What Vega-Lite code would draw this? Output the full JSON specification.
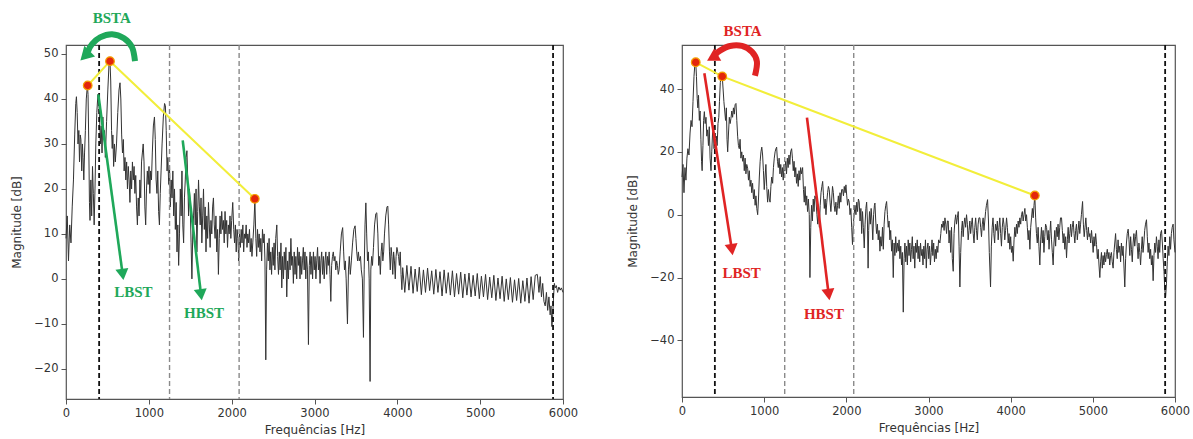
{
"$schema": "https://vega.github.io/schema/vega-lite/v6.json",
"autosize": {"type": "pad"},
"padding": {"left": 10, "top": 10, "right": 5, "bottom": 5},
"bounds": "flush",
"spacing": 119,
"config": {
  "font": "DejaVu Sans",
  "numberFormat": "d",
  "view": {"stroke": "#555", "strokeWidth": 1.2},
  "axis": {"grid": false, "domain": false, "labelFont": "DejaVu Sans", "labelFontSize": 11.5, "labelColor": "#333", "titleFont": "DejaVu Sans", "titleFontSize": 12, "titleFontWeight": "normal", "titleColor": "#333", "tickColor": "#555", "tickSize": 5, "labelPadding": 3},
  "axisX": {"labelFlush": false, "titlePadding": 6},
  "axisY": {"titlePadding": 10}
},
"datasets": {
  "vlb": [{"f": 400}, {"f": 5880}],
  "vlg": [{"f": 1250}, {"f": 2090}],
  "specL": [
{"f":0,"m":9},{"f":15,"m":14},{"f":30,"m":4},{"f":45,"m":12},{"f":60,"m":8},{"f":75,"m":16},{"f":90,"m":22},{"f":105,"m":32},{"f":118,"m":39},{"f":126,"m":40.5},{"f":135,"m":37},{"f":145,"m":30},{"f":155,"m":33},{"f":163,"m":26},{"f":172,"m":32},{"f":180,"m":31},{"f":190,"m":24},{"f":198,"m":30},{"f":206,"m":27},{"f":215,"m":22},{"f":224,"m":28},{"f":234,"m":33},{"f":245,"m":40},{"f":258,"m":43},{"f":266,"m":41},{"f":275,"m":30},{"f":283,"m":17},{"f":290,"m":13},{"f":300,"m":22},{"f":310,"m":14},{"f":320,"m":25},{"f":330,"m":19},{"f":340,"m":12},{"f":350,"m":20},{"f":360,"m":30},{"f":372,"m":37},{"f":385,"m":41},{"f":395,"m":40},{"f":405,"m":36},{"f":415,"m":30},{"f":425,"m":34},{"f":435,"m":28},{"f":445,"m":36},{"f":455,"m":31},{"f":465,"m":33},{"f":475,"m":27},{"f":490,"m":35},{"f":505,"m":42},{"f":520,"m":48},{"f":531,"m":48.4},{"f":540,"m":44},{"f":550,"m":33},{"f":558,"m":29},{"f":566,"m":32},{"f":575,"m":25},{"f":585,"m":30},{"f":595,"m":26},{"f":610,"m":30},{"f":625,"m":37},{"f":640,"m":42},{"f":652,"m":43.6},{"f":662,"m":40},{"f":672,"m":32},{"f":682,"m":28},{"f":692,"m":31},{"f":702,"m":24},{"f":712,"m":27},{"f":722,"m":22},{"f":732,"m":26},{"f":742,"m":20},{"f":752,"m":25},{"f":762,"m":22},{"f":772,"m":17},{"f":782,"m":24},{"f":792,"m":20},{"f":802,"m":26},{"f":812,"m":22},{"f":822,"m":25},{"f":832,"m":19},{"f":842,"m":23},{"f":852,"m":16},{"f":862,"m":12},{"f":872,"m":18},{"f":882,"m":14},{"f":892,"m":22},{"f":902,"m":18},{"f":912,"m":26},{"f":922,"m":28},{"f":932,"m":30},{"f":942,"m":26},{"f":952,"m":16},{"f":962,"m":12},{"f":972,"m":20},{"f":982,"m":24},{"f":992,"m":21},{"f":1002,"m":25},{"f":1012,"m":19},{"f":1022,"m":24},{"f":1032,"m":22},{"f":1042,"m":28},{"f":1055,"m":34},{"f":1068,"m":36},{"f":1078,"m":31},{"f":1088,"m":22},{"f":1098,"m":19},{"f":1108,"m":24},{"f":1118,"m":15},{"f":1128,"m":12},{"f":1138,"m":19},{"f":1148,"m":24},{"f":1160,"m":30},{"f":1175,"m":36},{"f":1190,"m":39},{"f":1200,"m":38.5},{"f":1210,"m":33},{"f":1220,"m":24},{"f":1230,"m":27},{"f":1240,"m":21},{"f":1250,"m":25},{"f":1260,"m":16},{"f":1270,"m":22},{"f":1280,"m":18},{"f":1290,"m":24},{"f":1300,"m":14},{"f":1310,"m":20},{"f":1320,"m":11},{"f":1330,"m":17},{"f":1340,"m":6},{"f":1350,"m":12},{"f":1360,"m":3},{"f":1370,"m":10},{"f":1380,"m":20},{"f":1390,"m":14},{"f":1400,"m":24},{"f":1410,"m":12},{"f":1420,"m":8},{"f":1430,"m":18},{"f":1440,"m":22},{"f":1450,"m":27},{"f":1460,"m":28.5},{"f":1470,"m":22},{"f":1480,"m":14},{"f":1490,"m":20},{"f":1500,"m":16},{"f":1510,"m":8},{"f":1520,"m":0},{"f":1530,"m":10},{"f":1540,"m":14},{"f":1550,"m":19},{"f":1560,"m":12},{"f":1570,"m":20},{"f":1580,"m":6},{"f":1590,"m":15},{"f":1600,"m":22},{"f":1610,"m":16},{"f":1620,"m":12},{"f":1630,"m":18},{"f":1640,"m":8},{"f":1650,"m":14},{"f":1660,"m":20},{"f":1670,"m":11},{"f":1680,"m":16},{"f":1690,"m":6},{"f":1700,"m":14},{"f":1710,"m":9},{"f":1720,"m":17},{"f":1730,"m":12},{"f":1740,"m":7},{"f":1750,"m":13},{"f":1760,"m":10},{"f":1770,"m":16},{"f":1780,"m":18},{"f":1790,"m":12},{"f":1800,"m":9},{"f":1810,"m":14},{"f":1820,"m":6},{"f":1830,"m":11},{"f":1840,"m":1},{"f":1850,"m":9},{"f":1860,"m":14},{"f":1870,"m":10},{"f":1880,"m":15},{"f":1890,"m":11},{"f":1900,"m":13},{"f":1910,"m":8},{"f":1920,"m":15},{"f":1930,"m":10},{"f":1940,"m":13},{"f":1950,"m":7},{"f":1960,"m":12},{"f":1970,"m":10},{"f":1980,"m":14},{"f":1990,"m":9},{"f":2000,"m":13},{"f":2013,"m":17},{"f":2025,"m":11},{"f":2035,"m":8},{"f":2045,"m":12},{"f":2055,"m":6},{"f":2065,"m":11},{"f":2075,"m":9},{"f":2085,"m":4},{"f":2095,"m":10},{"f":2105,"m":7},{"f":2115,"m":11},{"f":2125,"m":8},{"f":2135,"m":12},{"f":2145,"m":6},{"f":2155,"m":10},{"f":2165,"m":9},{"f":2175,"m":12},{"f":2185,"m":7},{"f":2195,"m":10},{"f":2205,"m":8},{"f":2215,"m":11},{"f":2225,"m":6},{"f":2235,"m":9},{"f":2245,"m":5},{"f":2255,"m":8},{"f":2268,"m":12},{"f":2280,"m":17.5},{"f":2292,"m":9},{"f":2302,"m":5},{"f":2312,"m":11},{"f":2322,"m":7},{"f":2332,"m":10},{"f":2342,"m":6},{"f":2352,"m":9},{"f":2362,"m":4},{"f":2372,"m":11},{"f":2382,"m":8},{"f":2392,"m":10},{"f":2402,"m":4},{"f":2412,"m":-18},{"f":2422,"m":2},{"f":2432,"m":8},{"f":2442,"m":4},{"f":2452,"m":9},{"f":2462,"m":2},{"f":2472,"m":6},{"f":2482,"m":1},{"f":2492,"m":7},{"f":2502,"m":3},{"f":2512,"m":8},{"f":2522,"m":2},{"f":2532,"m":9},{"f":2545,"m":12},{"f":2555,"m":5},{"f":2565,"m":1},{"f":2575,"m":6},{"f":2585,"m":2},{"f":2595,"m":8},{"f":2605,"m":-2},{"f":2615,"m":5},{"f":2625,"m":0},{"f":2635,"m":6},{"f":2645,"m":2},{"f":2655,"m":7},{"f":2665,"m":-4},{"f":2675,"m":4},{"f":2685,"m":0},{"f":2695,"m":6},{"f":2705,"m":2},{"f":2715,"m":9},{"f":2725,"m":3},{"f":2735,"m":5},{"f":2745,"m":-1},{"f":2755,"m":6},{"f":2765,"m":1},{"f":2775,"m":5},{"f":2785,"m":0},{"f":2795,"m":7},{"f":2805,"m":3},{"f":2815,"m":6},{"f":2825,"m":0},{"f":2835,"m":5},{"f":2845,"m":1},{"f":2855,"m":4},{"f":2865,"m":7},{"f":2875,"m":2},{"f":2885,"m":6},{"f":2895,"m":0},{"f":2905,"m":5},{"f":2915,"m":2},{"f":2927,"m":-14.6},{"f":2937,"m":3},{"f":2947,"m":6},{"f":2957,"m":1},{"f":2967,"m":5},{"f":2977,"m":0},{"f":2987,"m":6},{"f":2997,"m":2},{"f":3007,"m":5},{"f":3017,"m":0},{"f":3027,"m":4},{"f":3037,"m":7},{"f":3047,"m":2},{"f":3057,"m":5},{"f":3067,"m":-1},{"f":3077,"m":4},{"f":3087,"m":6},{"f":3097,"m":1},{"f":3107,"m":5},{"f":3117,"m":0},{"f":3127,"m":4},{"f":3137,"m":6},{"f":3147,"m":1},{"f":3157,"m":5},{"f":3167,"m":3},{"f":3177,"m":6},{"f":3187,"m":1},{"f":3197,"m":-5},{"f":3207,"m":3},{"f":3217,"m":5},{"f":3227,"m":6},{"f":3237,"m":4},{"f":3247,"m":5},{"f":3257,"m":2},{"f":3267,"m":4},{"f":3277,"m":3},{"f":3287,"m":1},{"f":3297,"m":2},{"f":3310,"m":6},{"f":3325,"m":10},{"f":3340,"m":11.4},{"f":3352,"m":6},{"f":3362,"m":2},{"f":3372,"m":4},{"f":3382,"m":0},{"f":3398,"m":-10},{"f":3410,"m":2},{"f":3420,"m":5},{"f":3432,"m":1},{"f":3445,"m":4},{"f":3460,"m":8},{"f":3475,"m":11},{"f":3490,"m":11.8},{"f":3500,"m":9},{"f":3510,"m":6},{"f":3520,"m":4},{"f":3530,"m":6},{"f":3540,"m":4},{"f":3555,"m":5},{"f":3565,"m":2},{"f":3578,"m":0},{"f":3591,"m":-13},{"f":3600,"m":2},{"f":3610,"m":12},{"f":3620,"m":16.9},{"f":3630,"m":10},{"f":3640,"m":4},{"f":3650,"m":6},{"f":3660,"m":0},{"f":3671,"m":-22.8},{"f":3680,"m":2},{"f":3690,"m":5},{"f":3700,"m":3},{"f":3712,"m":7},{"f":3725,"m":12},{"f":3740,"m":14.5},{"f":3752,"m":14.7},{"f":3765,"m":10},{"f":3775,"m":3},{"f":3785,"m":5},{"f":3795,"m":1},{"f":3805,"m":6},{"f":3815,"m":8},{"f":3825,"m":4},{"f":3835,"m":6},{"f":3845,"m":10},{"f":3860,"m":14},{"f":3875,"m":16},{"f":3885,"m":16.2},{"f":3895,"m":12},{"f":3905,"m":6},{"f":3915,"m":2},{"f":3925,"m":7},{"f":3935,"m":5},{"f":3945,"m":1},{"f":3955,"m":6},{"f":3965,"m":4},{"f":3975,"m":0},{"f":3985,"m":5},{"f":3995,"m":7},{"f":4005,"m":6},{"f":4015,"m":5},{"f":4025,"m":3},{"f":4035,"m":6},{"f":4045,"m":1},{"f":4055,"m":-2.4},
{"f":4065,"m":2.5},{"f":4090,"m":-3},{"f":4115,"m":3},{"f":4140,"m":-2.5},{"f":4165,"m":2.8},{"f":4190,"m":-3.2},{"f":4215,"m":2.2},{"f":4240,"m":-2.8},{"f":4265,"m":2.6},{"f":4290,"m":-3.5},{"f":4315,"m":2},{"f":4340,"m":-3},{"f":4365,"m":2.4},{"f":4390,"m":-2.6},{"f":4415,"m":1.8},{"f":4440,"m":-3.4},{"f":4465,"m":2.1},{"f":4490,"m":-3},{"f":4515,"m":1.6},{"f":4540,"m":-3.8},{"f":4565,"m":2},{"f":4590,"m":-3.2},{"f":4615,"m":1.4},{"f":4640,"m":-3.6},{"f":4665,"m":1.8},{"f":4690,"m":-4},{"f":4715,"m":1.2},{"f":4740,"m":-3.4},{"f":4765,"m":1.5},{"f":4790,"m":-4.2},{"f":4815,"m":1.1},{"f":4840,"m":-3.6},{"f":4865,"m":1.3},{"f":4890,"m":-4},{"f":4915,"m":0.8},{"f":4940,"m":-3.8},{"f":4965,"m":1.2},{"f":4990,"m":-4.4},{"f":5015,"m":0.6},{"f":5040,"m":-4},{"f":5065,"m":1},{"f":5090,"m":-4.6},{"f":5115,"m":0.4},{"f":5140,"m":-4.2},{"f":5165,"m":0.8},{"f":5190,"m":-4.8},{"f":5215,"m":0.2},{"f":5240,"m":-4.4},{"f":5265,"m":0.6},{"f":5290,"m":-5},{"f":5315,"m":0},{"f":5340,"m":-4.6},{"f":5365,"m":0.3},{"f":5390,"m":-5.2},{"f":5415,"m":-0.2},{"f":5440,"m":-4.8},{"f":5465,"m":0.1},{"f":5490,"m":-5.4},{"f":5515,"m":-0.4},{"f":5540,"m":-5},{"f":5565,"m":0.2},{"f":5590,"m":-5.4},{"f":5615,"m":0.5},{"f":5640,"m":-4.6},{"f":5665,"m":0.8},{"f":5690,"m":1},{"f":5710,"m":-3},{"f":5725,"m":0.5},{"f":5740,"m":-4},{"f":5755,"m":-1},{"f":5770,"m":-5},{"f":5785,"m":-6},{"f":5800,"m":-3},{"f":5815,"m":-7},{"f":5830,"m":-4},{"f":5845,"m":-8},{"f":5855,"m":-6},{"f":5866,"m":-10.6},{"f":5876,"m":-8},{"f":5886,"m":-4},{"f":5896,"m":-1},{"f":5906,"m":-2},{"f":5920,"m":-1.5},{"f":5935,"m":-3},{"f":5950,"m":-1.8},{"f":5966,"m":-2.5},{"f":5980,"m":-2},{"f":6000,"m":-3}
  ],
  "specR": [
{"f":0,"m":12},{"f":12,"m":16},{"f":24,"m":7},{"f":36,"m":15},{"f":48,"m":11},{"f":60,"m":18},{"f":72,"m":21},{"f":85,"m":19},{"f":98,"m":26},{"f":110,"m":30},{"f":122,"m":28},{"f":134,"m":36},{"f":146,"m":44},{"f":158,"m":48.5},{"f":167,"m":48.5},{"f":176,"m":44},{"f":185,"m":37},{"f":193,"m":34},{"f":201,"m":38},{"f":211,"m":30},{"f":220,"m":33},{"f":230,"m":24},{"f":238,"m":17},{"f":245,"m":14},{"f":255,"m":22},{"f":263,"m":30},{"f":272,"m":32.8},{"f":282,"m":29},{"f":292,"m":31},{"f":302,"m":25},{"f":312,"m":27},{"f":322,"m":22},{"f":332,"m":28},{"f":342,"m":18},{"f":353,"m":14},{"f":362,"m":20},{"f":372,"m":26},{"f":381,"m":27},{"f":390,"m":21},{"f":400,"m":24},{"f":410,"m":20},{"f":418,"m":25},{"f":428,"m":22},{"f":438,"m":29},{"f":448,"m":31},{"f":456,"m":36},{"f":466,"m":42},{"f":478,"m":44.5},{"f":490,"m":44},{"f":500,"m":40},{"f":510,"m":36},{"f":520,"m":33},{"f":530,"m":30},{"f":540,"m":34},{"f":548,"m":24},{"f":556,"m":20},{"f":566,"m":26},{"f":576,"m":31},{"f":586,"m":29},{"f":596,"m":30.7},{"f":606,"m":33},{"f":616,"m":31},{"f":626,"m":34},{"f":636,"m":32},{"f":646,"m":35},{"f":657,"m":35.4},{"f":667,"m":30},{"f":677,"m":25},{"f":687,"m":22},{"f":697,"m":21},{"f":707,"m":24},{"f":717,"m":18},{"f":727,"m":20},{"f":738,"m":17},{"f":748,"m":19},{"f":758,"m":14},{"f":768,"m":18},{"f":778,"m":13},{"f":788,"m":16},{"f":799,"m":14.8},{"f":809,"m":11},{"f":819,"m":14},{"f":829,"m":9},{"f":839,"m":11},{"f":849,"m":7},{"f":859,"m":10},{"f":870,"m":5},{"f":880,"m":8},{"f":890,"m":3},{"f":900,"m":6},{"f":910,"m":2},{"f":921,"m":0},{"f":931,"m":5},{"f":941,"m":12},{"f":951,"m":17},{"f":961,"m":20},{"f":971,"m":21.5},{"f":981,"m":19},{"f":991,"m":14},{"f":1001,"m":8},{"f":1011,"m":12},{"f":1021,"m":16},{"f":1031,"m":9},{"f":1042,"m":4},{"f":1052,"m":8},{"f":1062,"m":5},{"f":1072,"m":4},{"f":1082,"m":9},{"f":1092,"m":12},{"f":1103,"m":10},{"f":1113,"m":15},{"f":1123,"m":18},{"f":1133,"m":20},{"f":1143,"m":21},{"f":1152,"m":21.5},{"f":1162,"m":17},{"f":1172,"m":15},{"f":1182,"m":18},{"f":1192,"m":13},{"f":1202,"m":16},{"f":1212,"m":12},{"f":1222,"m":15},{"f":1232,"m":11},{"f":1242,"m":16},{"f":1252,"m":14},{"f":1262,"m":17},{"f":1272,"m":13},{"f":1282,"m":18},{"f":1292,"m":15},{"f":1302,"m":19},{"f":1312,"m":16},{"f":1322,"m":20},{"f":1334,"m":21},{"f":1344,"m":18},{"f":1354,"m":14},{"f":1364,"m":17},{"f":1374,"m":12},{"f":1384,"m":15},{"f":1394,"m":10},{"f":1404,"m":13},{"f":1414,"m":9},{"f":1424,"m":14},{"f":1434,"m":11},{"f":1444,"m":15},{"f":1454,"m":13},{"f":1468,"m":15},{"f":1478,"m":8},{"f":1488,"m":4},{"f":1498,"m":9},{"f":1508,"m":3},{"f":1518,"m":6},{"f":1528,"m":1},{"f":1538,"m":5},{"f":1549,"m":0},{"f":1557,"m":-20},{"f":1567,"m":-4},{"f":1577,"m":3},{"f":1587,"m":-2},{"f":1597,"m":5},{"f":1607,"m":1},{"f":1617,"m":6},{"f":1630,"m":5},{"f":1642,"m":0},{"f":1652,"m":-3},{"f":1662,"m":2},{"f":1672,"m":-4},{"f":1682,"m":3},{"f":1692,"m":7},{"f":1702,"m":9},{"f":1712,"m":10.6},{"f":1722,"m":6},{"f":1732,"m":2},{"f":1742,"m":5},{"f":1752,"m":0},{"f":1762,"m":4},{"f":1772,"m":7},{"f":1782,"m":9},{"f":1792,"m":8},{"f":1802,"m":4},{"f":1812,"m":1},{"f":1822,"m":5},{"f":1832,"m":9},{"f":1842,"m":7},{"f":1852,"m":3},{"f":1862,"m":1},{"f":1873,"m":4},{"f":1883,"m":0},{"f":1893,"m":3},{"f":1903,"m":6},{"f":1913,"m":2},{"f":1923,"m":7},{"f":1933,"m":4},{"f":1943,"m":8},{"f":1955,"m":8},{"f":1965,"m":6},{"f":1975,"m":9},{"f":1985,"m":7},{"f":1995,"m":9.5},{"f":2005,"m":6},{"f":2015,"m":3},{"f":2025,"m":5},{"f":2035,"m":4},{"f":2045,"m":0},{"f":2055,"m":2},{"f":2065,"m":-4},{"f":2075,"m":-9.5},{"f":2085,"m":-3},{"f":2095,"m":0},{"f":2105,"m":3},{"f":2117,"m":0},{"f":2127,"m":4},{"f":2137,"m":1},{"f":2147,"m":5},{"f":2157,"m":4},{"f":2167,"m":-2},{"f":2177,"m":2},{"f":2187,"m":-6},{"f":2197,"m":1},{"f":2207,"m":-4},{"f":2218,"m":-10.6},{"f":2228,"m":-3},{"f":2238,"m":2},{"f":2247,"m":4},{"f":2257,"m":-2},{"f":2265,"m":-17},{"f":2272,"m":-5},{"f":2282,"m":1},{"f":2292,"m":-3},{"f":2302,"m":2},{"f":2312,"m":-2},{"f":2322,"m":-8},{"f":2332,"m":0},{"f":2342,"m":3},{"f":2348,"m":3.7},{"f":2358,"m":-2},{"f":2368,"m":-6},{"f":2378,"m":-3},{"f":2388,"m":-8},{"f":2398,"m":-5},{"f":2409,"m":-11.6},{"f":2420,"m":-7},{"f":2430,"m":-10},{"f":2440,"m":-4},{"f":2450,"m":-11},{"f":2460,"m":-3},{"f":2470,"m":1},{"f":2480,"m":3},{"f":2490,"m":4.2},{"f":2500,"m":0},{"f":2510,"m":-4},{"f":2520,"m":-2},{"f":2530,"m":-8},{"f":2540,"m":-5},{"f":2551,"m":-11.6},{"f":2561,"m":-8},{"f":2571,"m":-20},{"f":2581,"m":-9},{"f":2591,"m":-13},{"f":2601,"m":-7},{"f":2611,"m":-12},{"f":2621,"m":-9},{"f":2632,"m":-11.6},{"f":2642,"m":-8},{"f":2652,"m":-14},{"f":2662,"m":-10},{"f":2672,"m":-16},{"f":2682,"m":-12},{"f":2693,"m":-31},{"f":2703,"m":-14},{"f":2713,"m":-9},{"f":2723,"m":-15},{"f":2733,"m":-10},{"f":2743,"m":-16},{"f":2753,"m":-8},{"f":2763,"m":-13},{"f":2773,"m":-9},{"f":2783,"m":-15},{"f":2793,"m":-11},{"f":2803,"m":-7},{"f":2813,"m":-14},{"f":2823,"m":-10},{"f":2833,"m":-17},{"f":2843,"m":-9},{"f":2853,"m":-12},{"f":2863,"m":-8},{"f":2873,"m":-14},{"f":2883,"m":-10},{"f":2893,"m":-15},{"f":2903,"m":-9},{"f":2913,"m":-13},{"f":2923,"m":-11},{"f":2933,"m":-16},{"f":2943,"m":-10},{"f":2953,"m":-14},{"f":2963,"m":-8},{"f":2973,"m":-17},{"f":2983,"m":-11},{"f":2993,"m":-9},{"f":3003,"m":-14},{"f":3013,"m":-10},{"f":3023,"m":-16},{"f":3033,"m":-12},{"f":3043,"m":-8},{"f":3053,"m":-13},{"f":3063,"m":-9},{"f":3073,"m":-15},{"f":3083,"m":-11},{"f":3093,"m":-14},{"f":3103,"m":-10},{"f":3113,"m":-12},{"f":3123,"m":-8},{"f":3139,"m":-9},{"f":3150,"m":-6},{"f":3160,"m":-3},{"f":3170,"m":-4},{"f":3179,"m":-2},{"f":3190,"m":-5},{"f":3200,"m":-1},{"f":3210,"m":-3},{"f":3220,"m":-6},{"f":3230,"m":-2},{"f":3240,"m":-2},{"f":3250,"m":-9},{"f":3260,"m":-5},{"f":3270,"m":-12},{"f":3280,"m":-4},{"f":3290,"m":-14},{"f":3301,"m":-18},{"f":3311,"m":-6},{"f":3321,"m":-2},{"f":3331,"m":0},{"f":3341,"m":-3},{"f":3351,"m":-1},{"f":3362,"m":1},{"f":3372,"m":-10},{"f":3382,"m":-23},{"f":3392,"m":-12},{"f":3402,"m":-5},{"f":3412,"m":-2},{"f":3422,"m":-7},{"f":3432,"m":-3},{"f":3442,"m":-1},{"f":3452,"m":-4},{"f":3463,"m":0},{"f":3473,"m":-3},{"f":3483,"m":-8},{"f":3493,"m":-5},{"f":3503,"m":-2},{"f":3513,"m":-6},{"f":3523,"m":-3},{"f":3533,"m":-1},{"f":3544,"m":-6},{"f":3554,"m":-9},{"f":3564,"m":-4},{"f":3574,"m":-1},{"f":3584,"m":-5},{"f":3594,"m":-8},{"f":3604,"m":-3},{"f":3614,"m":-1},{"f":3625,"m":-1},{"f":3635,"m":-4},{"f":3645,"m":-7},{"f":3655,"m":-3},{"f":3665,"m":-1},{"f":3675,"m":-5},{"f":3685,"m":-2},{"f":3695,"m":1},{"f":3705,"m":3},{"f":3719,"m":4.8},{"f":3730,"m":-2},{"f":3740,"m":-12},{"f":3755,"m":-23},{"f":3765,"m":-10},{"f":3775,"m":-4},{"f":3785,"m":-1},{"f":3795,"m":-6},{"f":3805,"m":-9},{"f":3815,"m":-3},{"f":3828,"m":-5},{"f":3838,"m":-2},{"f":3848,"m":-8},{"f":3858,"m":-4},{"f":3868,"m":-1},{"f":3878,"m":-6},{"f":3888,"m":-10},{"f":3898,"m":-4},{"f":3908,"m":-1},{"f":3918,"m":-3},{"f":3928,"m":-8},{"f":3938,"m":-5},{"f":3950,"m":-1},{"f":3960,"m":-4},{"f":3970,"m":-9},{"f":3980,"m":-6},{"f":3990,"m":-11},{"f":4000,"m":-7},{"f":4010,"m":-12},{"f":4020,"m":-10},{"f":4031,"m":-14.8},{"f":4041,"m":-8},{"f":4051,"m":-4},{"f":4061,"m":-7},{"f":4071,"m":-3},{"f":4081,"m":-6},{"f":4091,"m":-2},{"f":4101,"m":-4},{"f":4112,"m":-1},{"f":4122,"m":-3},{"f":4132,"m":0},{"f":4142,"m":1},{"f":4152,"m":-2},{"f":4162,"m":0},{"f":4173,"m":2},{"f":4183,"m":-2},{"f":4193,"m":0},{"f":4203,"m":-4},{"f":4213,"m":-8},{"f":4223,"m":-5},{"f":4234,"m":-11},{"f":4244,"m":-4},{"f":4254,"m":-1},{"f":4264,"m":2},{"f":4274,"m":-1},{"f":4284,"m":3},{"f":4294,"m":6},{"f":4304,"m":-1},{"f":4314,"m":-6},{"f":4324,"m":-9},{"f":4334,"m":-4},{"f":4344,"m":-10},{"f":4355,"m":-16},{"f":4365,"m":-8},{"f":4375,"m":-4},{"f":4385,"m":-9},{"f":4395,"m":-5},{"f":4405,"m":-12},{"f":4415,"m":-7},{"f":4425,"m":-3},{"f":4437,"m":-4},{"f":4447,"m":-8},{"f":4457,"m":-5},{"f":4467,"m":-11},{"f":4477,"m":-6},{"f":4487,"m":-2},{"f":4497,"m":-8},{"f":4507,"m":-12},{"f":4517,"m":-16},{"f":4527,"m":-9},{"f":4537,"m":-5},{"f":4547,"m":-10},{"f":4557,"m":-4},{"f":4567,"m":-7},{"f":4577,"m":-3},{"f":4587,"m":-8},{"f":4597,"m":-4},{"f":4607,"m":-1},{"f":4619,"m":-1},{"f":4629,"m":-5},{"f":4639,"m":-9},{"f":4649,"m":-6},{"f":4659,"m":-11},{"f":4669,"m":-7},{"f":4680,"m":-13.7},{"f":4690,"m":-8},{"f":4700,"m":-4},{"f":4710,"m":-9},{"f":4720,"m":-6},{"f":4730,"m":-3},{"f":4740,"m":-7},{"f":4750,"m":-4},{"f":4761,"m":-2},{"f":4771,"m":-6},{"f":4781,"m":-9},{"f":4791,"m":-5},{"f":4801,"m":-3},{"f":4811,"m":-8},{"f":4821,"m":-5},{"f":4831,"m":-2},{"f":4841,"m":-6},{"f":4851,"m":-3},{"f":4861,"m":0},{"f":4875,"m":4.2},{"f":4885,"m":-3},{"f":4895,"m":-7},{"f":4905,"m":-4},{"f":4915,"m":-1},{"f":4925,"m":-5},{"f":4935,"m":-8},{"f":4945,"m":-4},{"f":4955,"m":-7},{"f":4964,"m":-6},{"f":4974,"m":-9},{"f":4984,"m":-5},{"f":4994,"m":-8},{"f":5004,"m":-12},{"f":5014,"m":-7},{"f":5024,"m":-10},{"f":5034,"m":-6},{"f":5045,"m":-9.5},{"f":5055,"m":-14},{"f":5065,"m":-11},{"f":5075,"m":-16},{"f":5085,"m":-20},{"f":5095,"m":-15},{"f":5105,"m":-12},{"f":5115,"m":-17},{"f":5125,"m":-13},{"f":5135,"m":-16},{"f":5145,"m":-12},{"f":5155,"m":-15},{"f":5166,"m":-12.7},{"f":5176,"m":-11},{"f":5186,"m":-14},{"f":5196,"m":-12},{"f":5206,"m":-16},{"f":5216,"m":-13},{"f":5226,"m":-12},{"f":5236,"m":-15},{"f":5247,"m":-17},{"f":5257,"m":-12},{"f":5267,"m":-9},{"f":5277,"m":-6},{"f":5287,"m":-11},{"f":5297,"m":-14},{"f":5307,"m":-8},{"f":5317,"m":-12},{"f":5328,"m":-10},{"f":5338,"m":-15},{"f":5348,"m":-9},{"f":5358,"m":-13},{"f":5368,"m":-10},{"f":5378,"m":-16},{"f":5389,"m":-23},{"f":5399,"m":-14},{"f":5409,"m":-9},{"f":5419,"m":-6},{"f":5430,"m":-4.6},{"f":5440,"m":-8},{"f":5450,"m":-13},{"f":5460,"m":-7},{"f":5470,"m":-11},{"f":5480,"m":-15},{"f":5490,"m":-9},{"f":5500,"m":-6},{"f":5510,"m":-10},{"f":5520,"m":-7},{"f":5531,"m":-5},{"f":5541,"m":-10},{"f":5551,"m":-14},{"f":5561,"m":-9},{"f":5571,"m":-12},{"f":5581,"m":-16},{"f":5591,"m":-11},{"f":5601,"m":-7},{"f":5611,"m":-12},{"f":5621,"m":-9},{"f":5631,"m":-5},{"f":5641,"m":-3},{"f":5653,"m":-1.6},{"f":5663,"m":-7},{"f":5673,"m":-12},{"f":5683,"m":-9},{"f":5693,"m":-14},{"f":5703,"m":-11},{"f":5713,"m":-16},{"f":5723,"m":-13},{"f":5734,"m":-21},{"f":5744,"m":-13},{"f":5754,"m":-9},{"f":5764,"m":-12},{"f":5774,"m":-7},{"f":5784,"m":-10},{"f":5794,"m":-14},{"f":5804,"m":-8},{"f":5814,"m":-12},{"f":5824,"m":-6},{"f":5836,"m":-5},{"f":5846,"m":-9},{"f":5856,"m":-14},{"f":5866,"m":-18},{"f":5876,"m":-24},{"f":5886,"m":-26},{"f":5896,"m":-22},{"f":5906,"m":-15},{"f":5916,"m":-10},{"f":5926,"m":-13},{"f":5936,"m":-7},{"f":5946,"m":-11},{"f":5956,"m":-6},{"f":5966,"m":-4},{"f":5977,"m":-3},{"f":5987,"m":-8},{"f":6000,"m":-12}
  ],
  "peaksL": [{"f": 262, "m": 43}, {"f": 531, "m": 48.4}, {"f": 2279, "m": 17.8}],
  "peaksR": [{"f": 167, "m": 48.5}, {"f": 490, "m": 44}, {"f": 4294, "m": 6.1}],
  "arrowsL": [{"f": 390, "m": 41, "f2": 684, "m2": 1}, {"f": 1409, "m": 30.8, "f2": 1630, "m2": -3.5}],
  "headsL": [{"f": 684, "m": 1}, {"f": 1630, "m": -3.5}],
  "arrowsR": [{"f": 272, "m": 45, "f2": 607, "m2": -11.1}, {"f": 1521, "m": 30.9, "f2": 1785, "m2": -25.4}],
  "headsR": [{"f": 607, "m": -11.1}, {"f": 1785, "m": -25.4}],
  "arcL": [{"i": 1, "f": 833, "m": 48.4}, {"i": 2, "f": 797, "m": 51.5}, {"i": 3, "f": 700, "m": 53.5}, {"i": 4, "f": 556, "m": 54.4}, {"i": 5, "f": 411, "m": 53.7}, {"i": 6, "f": 314, "m": 52.2}, {"i": 7, "f": 266, "m": 50.6}],
  "arcHeadL": [{"f": 230, "m": 49.6}],
  "arcR": [{"i": 1, "f": 888, "m": 44.2}, {"i": 2, "f": 912, "m": 48.7}, {"i": 3, "f": 852, "m": 51.8}, {"i": 4, "f": 730, "m": 53.7}, {"i": 5, "f": 584, "m": 53.7}, {"i": 6, "f": 462, "m": 52.2}, {"i": 7, "f": 400, "m": 50.8}],
  "arcHeadR": [{"f": 370, "m": 50}],
  "textL": [{"f": 552, "m": 58.0, "label": "BSTA"}, {"f": 813, "m": -2.9, "label": "LBST"}, {"f": 1667, "m": -7.6, "label": "HBST"}],
  "textR": [{"f": 738, "m": 58.4, "label": "BSTA"}, {"f": 726, "m": -18.5, "label": "LBST"}, {"f": 1727, "m": -31.7, "label": "HBST"}]
},
"hconcat": [
  {
    "width": 497, "height": 354,
    "layer": [
      {"data": {"name": "specL"}, "mark": {"type": "line", "color": "#333", "strokeWidth": 1},
       "encoding": {
         "x": {"field": "f", "type": "quantitative", "scale": {"domain": [0, 6000], "nice": false}, "axis": {"title": "Frequências [Hz]", "values": [0, 1000, 2000, 3000, 4000, 5000, 6000]}},
         "y": {"field": "m", "type": "quantitative", "scale": {"domain": [-26.7, 52], "nice": false, "zero": false}, "axis": {"title": "Magnitude [dB]", "values": [-20, -10, 0, 10, 20, 30, 40, 50]}}}},
      {"data": {"name": "vlb"}, "mark": {"type": "rule", "color": "#111", "strokeWidth": 1.8, "strokeDash": [5, 3]},
       "encoding": {"x": {"field": "f", "type": "quantitative", "scale": {"domain": [0, 6000], "nice": false}, "axis": {"title": "Frequências [Hz]", "values": [0, 1000, 2000, 3000, 4000, 5000, 6000]}}}},
      {"data": {"name": "vlg"}, "mark": {"type": "rule", "color": "#8a8a8a", "strokeWidth": 1.4, "strokeDash": [5, 3]},
       "encoding": {"x": {"field": "f", "type": "quantitative", "scale": {"domain": [0, 6000], "nice": false}, "axis": {"title": "Frequências [Hz]", "values": [0, 1000, 2000, 3000, 4000, 5000, 6000]}}}},
      {"data": {"name": "peaksL"}, "mark": {"type": "line", "color": "#f2ee3a", "strokeWidth": 2},
       "encoding": {"x": {"field": "f", "type": "quantitative", "scale": {"domain": [0, 6000], "nice": false}, "axis": {"title": "Frequências [Hz]", "values": [0, 1000, 2000, 3000, 4000, 5000, 6000]}}, "y": {"field": "m", "type": "quantitative", "scale": {"domain": [-26.7, 52], "nice": false, "zero": false}, "axis": {"title": "Magnitude [dB]", "values": [-20, -10, 0, 10, 20, 30, 40, 50]}}}},
      {"data": {"name": "peaksL"}, "mark": {"type": "point", "filled": true, "color": "#e3260c", "size": 75, "stroke": "#f5a000", "strokeWidth": 1.2, "opacity": 1},
       "encoding": {"x": {"field": "f", "type": "quantitative", "scale": {"domain": [0, 6000], "nice": false}, "axis": {"title": "Frequências [Hz]", "values": [0, 1000, 2000, 3000, 4000, 5000, 6000]}}, "y": {"field": "m", "type": "quantitative", "scale": {"domain": [-26.7, 52], "nice": false, "zero": false}, "axis": {"title": "Magnitude [dB]", "values": [-20, -10, 0, 10, 20, 30, 40, 50]}}}},
      {"data": {"name": "arrowsL"}, "mark": {"type": "rule", "color": "#1fa85a", "strokeWidth": 2.6},
       "encoding": {"x": {"field": "f", "type": "quantitative", "scale": {"domain": [0, 6000], "nice": false}, "axis": {"title": "Frequências [Hz]", "values": [0, 1000, 2000, 3000, 4000, 5000, 6000]}}, "y": {"field": "m", "type": "quantitative", "scale": {"domain": [-26.7, 52], "nice": false, "zero": false}, "axis": {"title": "Magnitude [dB]", "values": [-20, -10, 0, 10, 20, 30, 40, 50]}}, "x2": {"field": "f2"}, "y2": {"field": "m2"}}},
      {"data": {"name": "headsL"}, "mark": {"type": "point", "shape": "triangle-down", "filled": true, "color": "#1fa85a", "size": 170, "angle": -8, "opacity": 1},
       "encoding": {"x": {"field": "f", "type": "quantitative", "scale": {"domain": [0, 6000], "nice": false}, "axis": {"title": "Frequências [Hz]", "values": [0, 1000, 2000, 3000, 4000, 5000, 6000]}}, "y": {"field": "m", "type": "quantitative", "scale": {"domain": [-26.7, 52], "nice": false, "zero": false}, "axis": {"title": "Magnitude [dB]", "values": [-20, -10, 0, 10, 20, 30, 40, 50]}}}},
      {"data": {"name": "arcL"}, "mark": {"type": "line", "color": "#1fa85a", "strokeWidth": 6, "interpolate": "cardinal"},
       "encoding": {"x": {"field": "f", "type": "quantitative", "scale": {"domain": [0, 6000], "nice": false}, "axis": {"title": "Frequências [Hz]", "values": [0, 1000, 2000, 3000, 4000, 5000, 6000]}}, "y": {"field": "m", "type": "quantitative", "scale": {"domain": [-26.7, 52], "nice": false, "zero": false}, "axis": {"title": "Magnitude [dB]", "values": [-20, -10, 0, 10, 20, 30, 40, 50]}}, "order": {"field": "i", "type": "quantitative"}}},
      {"data": {"name": "arcHeadL"}, "mark": {"type": "point", "shape": "triangle-left", "filled": true, "color": "#1fa85a", "size": 230, "angle": -45, "opacity": 1},
       "encoding": {"x": {"field": "f", "type": "quantitative", "scale": {"domain": [0, 6000], "nice": false}, "axis": {"title": "Frequências [Hz]", "values": [0, 1000, 2000, 3000, 4000, 5000, 6000]}}, "y": {"field": "m", "type": "quantitative", "scale": {"domain": [-26.7, 52], "nice": false, "zero": false}, "axis": {"title": "Magnitude [dB]", "values": [-20, -10, 0, 10, 20, 30, 40, 50]}}}},
      {"data": {"name": "textL"}, "mark": {"type": "text", "font": "Liberation Serif", "fontWeight": "bold", "fontSize": 15, "color": "#1fa85a"},
       "encoding": {"x": {"field": "f", "type": "quantitative", "scale": {"domain": [0, 6000], "nice": false}, "axis": {"title": "Frequências [Hz]", "values": [0, 1000, 2000, 3000, 4000, 5000, 6000]}}, "y": {"field": "m", "type": "quantitative", "scale": {"domain": [-26.7, 52], "nice": false, "zero": false}, "axis": {"title": "Magnitude [dB]", "values": [-20, -10, 0, 10, 20, 30, 40, 50]}}, "text": {"field": "label"}}}
    ]
  },
  {
    "width": 493, "height": 352,
    "layer": [
      {"data": {"name": "specR"}, "mark": {"type": "line", "color": "#333", "strokeWidth": 1},
       "encoding": {
         "x": {"field": "f", "type": "quantitative", "scale": {"domain": [0, 6000], "nice": false}, "axis": {"title": "Frequências [Hz]", "values": [0, 1000, 2000, 3000, 4000, 5000, 6000]}},
         "y": {"field": "m", "type": "quantitative", "scale": {"domain": [-58, 54], "nice": false, "zero": false}, "axis": {"title": "Magnitude [dB]", "values": [-40, -20, 0, 20, 40]}}}},
      {"data": {"name": "vlb"}, "mark": {"type": "rule", "color": "#111", "strokeWidth": 1.8, "strokeDash": [5, 3]},
       "encoding": {"x": {"field": "f", "type": "quantitative", "scale": {"domain": [0, 6000], "nice": false}, "axis": {"title": "Frequências [Hz]", "values": [0, 1000, 2000, 3000, 4000, 5000, 6000]}}}},
      {"data": {"name": "vlg"}, "mark": {"type": "rule", "color": "#8a8a8a", "strokeWidth": 1.4, "strokeDash": [5, 3]},
       "encoding": {"x": {"field": "f", "type": "quantitative", "scale": {"domain": [0, 6000], "nice": false}, "axis": {"title": "Frequências [Hz]", "values": [0, 1000, 2000, 3000, 4000, 5000, 6000]}}}},
      {"data": {"name": "peaksR"}, "mark": {"type": "line", "color": "#f2ee3a", "strokeWidth": 2},
       "encoding": {"x": {"field": "f", "type": "quantitative", "scale": {"domain": [0, 6000], "nice": false}, "axis": {"title": "Frequências [Hz]", "values": [0, 1000, 2000, 3000, 4000, 5000, 6000]}}, "y": {"field": "m", "type": "quantitative", "scale": {"domain": [-58, 54], "nice": false, "zero": false}, "axis": {"title": "Magnitude [dB]", "values": [-40, -20, 0, 20, 40]}}}},
      {"data": {"name": "peaksR"}, "mark": {"type": "point", "filled": true, "color": "#e3260c", "size": 75, "stroke": "#f5a000", "strokeWidth": 1.2, "opacity": 1},
       "encoding": {"x": {"field": "f", "type": "quantitative", "scale": {"domain": [0, 6000], "nice": false}, "axis": {"title": "Frequências [Hz]", "values": [0, 1000, 2000, 3000, 4000, 5000, 6000]}}, "y": {"field": "m", "type": "quantitative", "scale": {"domain": [-58, 54], "nice": false, "zero": false}, "axis": {"title": "Magnitude [dB]", "values": [-40, -20, 0, 20, 40]}}}},
      {"data": {"name": "arrowsR"}, "mark": {"type": "rule", "color": "#e02424", "strokeWidth": 2.6},
       "encoding": {"x": {"field": "f", "type": "quantitative", "scale": {"domain": [0, 6000], "nice": false}, "axis": {"title": "Frequências [Hz]", "values": [0, 1000, 2000, 3000, 4000, 5000, 6000]}}, "y": {"field": "m", "type": "quantitative", "scale": {"domain": [-58, 54], "nice": false, "zero": false}, "axis": {"title": "Magnitude [dB]", "values": [-40, -20, 0, 20, 40]}}, "x2": {"field": "f2"}, "y2": {"field": "m2"}}},
      {"data": {"name": "headsR"}, "mark": {"type": "point", "shape": "triangle-down", "filled": true, "color": "#e02424", "size": 170, "angle": -8, "opacity": 1},
       "encoding": {"x": {"field": "f", "type": "quantitative", "scale": {"domain": [0, 6000], "nice": false}, "axis": {"title": "Frequências [Hz]", "values": [0, 1000, 2000, 3000, 4000, 5000, 6000]}}, "y": {"field": "m", "type": "quantitative", "scale": {"domain": [-58, 54], "nice": false, "zero": false}, "axis": {"title": "Magnitude [dB]", "values": [-40, -20, 0, 20, 40]}}}},
      {"data": {"name": "arcR"}, "mark": {"type": "line", "color": "#e02424", "strokeWidth": 6, "interpolate": "cardinal"},
       "encoding": {"x": {"field": "f", "type": "quantitative", "scale": {"domain": [0, 6000], "nice": false}, "axis": {"title": "Frequências [Hz]", "values": [0, 1000, 2000, 3000, 4000, 5000, 6000]}}, "y": {"field": "m", "type": "quantitative", "scale": {"domain": [-58, 54], "nice": false, "zero": false}, "axis": {"title": "Magnitude [dB]", "values": [-40, -20, 0, 20, 40]}}, "order": {"field": "i", "type": "quantitative"}}},
      {"data": {"name": "arcHeadR"}, "mark": {"type": "point", "shape": "triangle-left", "filled": true, "color": "#e02424", "size": 200, "angle": -30, "opacity": 1},
       "encoding": {"x": {"field": "f", "type": "quantitative", "scale": {"domain": [0, 6000], "nice": false}, "axis": {"title": "Frequências [Hz]", "values": [0, 1000, 2000, 3000, 4000, 5000, 6000]}}, "y": {"field": "m", "type": "quantitative", "scale": {"domain": [-58, 54], "nice": false, "zero": false}, "axis": {"title": "Magnitude [dB]", "values": [-40, -20, 0, 20, 40]}}}},
      {"data": {"name": "textR"}, "mark": {"type": "text", "font": "Liberation Serif", "fontWeight": "bold", "fontSize": 15, "color": "#e02424"},
       "encoding": {"x": {"field": "f", "type": "quantitative", "scale": {"domain": [0, 6000], "nice": false}, "axis": {"title": "Frequências [Hz]", "values": [0, 1000, 2000, 3000, 4000, 5000, 6000]}}, "y": {"field": "m", "type": "quantitative", "scale": {"domain": [-58, 54], "nice": false, "zero": false}, "axis": {"title": "Magnitude [dB]", "values": [-40, -20, 0, 20, 40]}}, "text": {"field": "label"}}}
    ]
  }
]
}
